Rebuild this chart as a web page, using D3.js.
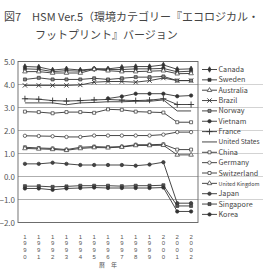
<!DOCTYPE html>
<html>
<head>
<meta charset="utf-8">
<script src="https://cdn.jsdelivr.net/npm/d3@7"></script>
<style>
  body { margin: 0; background: #fff; }
  svg { display: block; font-family: "Noto Sans CJK JP", "Noto Sans", sans-serif; }
</style>
</head>
<body>
<script>
// chart data
var years = ["1990","1991","1992","1993","1994","1995","1996","1997","1998","1999","2000","2001","2002"];
var yTicks = [5, 4, 3, 2, 1, 0, -1, -2];
var countries = ["Canada","Sweden","Australia","Brazil","Norway","Vietnam","France","United States","China","Germany","Switzerland","United Kingdom","Japan","Singapore","Korea"];

var canada      = [4.78, 4.76, 4.63, 4.68, 4.63, 4.68, 4.68, 4.75, 4.78, 4.78, 4.85, 4.66, 4.68];
var sweden      = [4.68, 4.66, 4.56, 4.6, 4.58, 4.68, 4.65, 4.65, 4.68, 4.68, 4.7, 4.55, 4.58];
var australia   = [4.56, 4.56, 4.5, 4.5, 4.5, 4.66, 4.6, 4.56, 4.56, 4.58, 4.6, 4.47, 4.48];
var brazil      = [3.96, 3.96, 3.96, 3.96, 3.98, 4.1, 4.13, 4.13, 4.1, 4.17, 4.28, 4.17, 4.17];
var norway      = [4.22, 4.29, 4.22, 4.22, 4.22, 4.27, 4.22, 4.27, 4.32, 4.32, 4.35, 4.17, 4.17];
var vietnam     = [null, null, null, null, null, null, 3.39, 3.48, 3.6, 3.6, 3.6, 3.49, 3.52];
var france      = [3.38, 3.36, 3.3, 3.28, 3.3, 3.33, 3.35, 3.32, 3.3, 3.32, 3.38, 3.13, 3.13];
var usa         = [3.2, 3.2, 3.2, 3.12, 3.2, 3.22, 3.25, 3.25, 3.27, 3.27, 3.33, 2.85, 2.85];
var china       = [2.82, 2.8, 2.75, 2.8, 2.8, 2.77, 2.92, 2.9, 2.82, 2.8, 2.78, 2.36, 2.36];
var germany     = [1.77, 1.76, 1.75, 1.72, 1.72, 1.78, 1.78, 1.78, 1.78, 1.78, 1.82, 1.93, 1.93];
var switzerland = [1.27, 1.24, 1.22, 1.17, 1.27, 1.3, 1.28, 1.3, 1.38, 1.38, 1.4, 1.17, 1.17];
var uk          = [1.22, 1.2, 1.18, 1.14, 1.22, 1.26, 1.25, 1.28, 1.35, 1.35, 1.36, 0.94, 0.94];
var japan       = [0.55, 0.55, 0.6, 0.55, 0.5, 0.5, 0.5, 0.5, 0.47, 0.52, 0.62, -1.16, -1.16];
var singapore   = [-0.42, -0.42, -0.45, -0.43, -0.4, -0.4, -0.4, -0.42, -0.4, -0.4, -0.38, -1.28, -1.28];
var korea       = [-0.52, -0.52, -0.58, -0.52, -0.5, -0.48, -0.5, -0.5, -0.5, -0.5, -0.48, -1.52, -1.52];

var seriesValues = [canada, sweden, australia, brazil, norway, vietnam, france, usa, china, germany, switzerland, uk, japan, singapore, korea];

// marker style for each country: [symbol, fill]
var markers = [
  [d3.symbolDiamond, "#333"], [d3.symbolSquare, "#333"], [d3.symbolTriangle, "#fff"],
  [d3.symbolTimes, "none"], [d3.symbolSquare, "#888"], [d3.symbolCircle, "#333"],
  [d3.symbolPlus, "none"], [null, null], [d3.symbolSquare, "#fff"],
  [d3.symbolCircle, "#fff"], [d3.symbolSquare, "#fff"], [d3.symbolTriangle, "#fff"],
  [d3.symbolCircle, "#444"], [d3.symbolSquare, "#555"], [d3.symbolCircle, "#333"]
];

var width = 263, height = 269;
var svg = d3.select("body").append("svg")
    .attr("width", width)
    .attr("height", height);

// title
var title = svg.append("g").attr("fill", "#444").style("font-size", "11px");
title.append("text").attr("x", 4).attr("y", 21).text("図7　HSM Ver.5（環境カテゴリー『エコロジカル・");
title.append("text").attr("x", 35).attr("y", 39).text("フットプリント』バージョン");

var x = d3.scalePoint().domain(years).range([18, 198]).padding(0.5);
var y = d3.scaleLinear().domain([-2, 5]).range([222.5, 61.5]);

// gridlines, faintly continuing through the legend
svg.append("g").selectAll("line.ext")
  .data(yTicks.filter(function(d){ return d > -2 && d < 5; }))
  .enter().append("line")
  .attr("x1", 198).attr("x2", width)
  .attr("y1", function(d){ return y(d); }).attr("y2", function(d){ return y(d); })
  .attr("stroke", "#c8c8c8").attr("stroke-width", 0.8);

svg.append("g").selectAll("line.grid")
  .data(yTicks)
  .enter().append("line")
  .attr("x1", 18).attr("x2", 198)
  .attr("y1", function(d){ return y(d); }).attr("y2", function(d){ return y(d); })
  .attr("stroke", "#999").attr("stroke-width", 0.8);

// plot frame
svg.append("rect")
  .attr("x", 18).attr("y", y(5))
  .attr("width", 180).attr("height", y(-2) - y(5))
  .attr("fill", "none").attr("stroke", "#666").attr("stroke-width", 0.9);

// y tick labels
svg.append("g").selectAll("text")
  .data(yTicks)
  .enter().append("text")
  .attr("x", 15).attr("y", function(d){ return y(d) + 3; })
  .attr("text-anchor", "end")
  .attr("fill", "#555").style("font-size", "8px")
  .text(function(d){ return d3.format(".1f")(d); });

// x tick labels, one digit per row
var digitRows = [0, 1, 2, 3];
years.forEach(function(yr){
  svg.append("g").selectAll("text")
    .data(digitRows)
    .enter().append("text")
    .attr("x", x(yr))
    .attr("y", function(r){ return 238.5 + r * 6.8; })
    .attr("text-anchor", "middle")
    .attr("fill", "#555")
    .style("font-family", "'Liberation Sans', sans-serif")
    .style("font-size", "6px")
    .text(function(r){ return yr.charAt(r); });
});

svg.append("text").attr("x", 108).attr("y", 267.2)
  .attr("text-anchor", "middle").attr("fill", "#555")
  .style("font-size", "6px").text("暦　年");

// series lines and markers
var line = d3.line()
  .defined(function(d){ return d != null; })
  .x(function(d, i){ return x(years[i]); })
  .y(function(d){ return y(d); });

function drawMarker(g, m, cx, cy, size){
  if (!m[0]) return;
  var stroked = (m[0] === d3.symbolTimes || m[0] === d3.symbolPlus);
  g.append("path")
    .attr("d", d3.symbol().type(m[0]).size(stroked ? 14 : size)())
    .attr("transform", "translate(" + cx + "," + cy + ")")
    .attr("fill", m[1])
    .attr("stroke", "#333").attr("stroke-width", stroked ? 0.9 : 0.7);
}

var plot = svg.append("g");
seriesValues.forEach(function(vals, s){
  plot.append("path")
    .datum(vals)
    .attr("d", line)
    .attr("fill", "none")
    .attr("stroke", "#333")
    .attr("stroke-width", 0.9);
  vals.forEach(function(v, i){
    if (v == null) return;
    drawMarker(plot, markers[s], x(years[i]), y(v), 9);
  });
});

// legend
var legend = svg.append("g");
countries.forEach(function(name, i){
  var ly = 69.5 + i * 10.35;
  legend.append("line")
    .attr("x1", 202).attr("x2", 217).attr("y1", ly).attr("y2", ly)
    .attr("stroke", "#333").attr("stroke-width", 0.9);
  drawMarker(legend, markers[i], 209.5, ly, 9);
  var t = legend.append("text")
    .attr("x", 218.5).attr("y", ly + 2.5)
    .attr("fill", "#444").style("font-size", "7.2px")
    .text(name);
  // shrink long names so they stay inside the picture
  var len = t.node().getComputedTextLength();
  if (len > 41) t.style("font-size", (7.2 * 41 / len).toFixed(2) + "px");
});
</script>
</body>
</html>
